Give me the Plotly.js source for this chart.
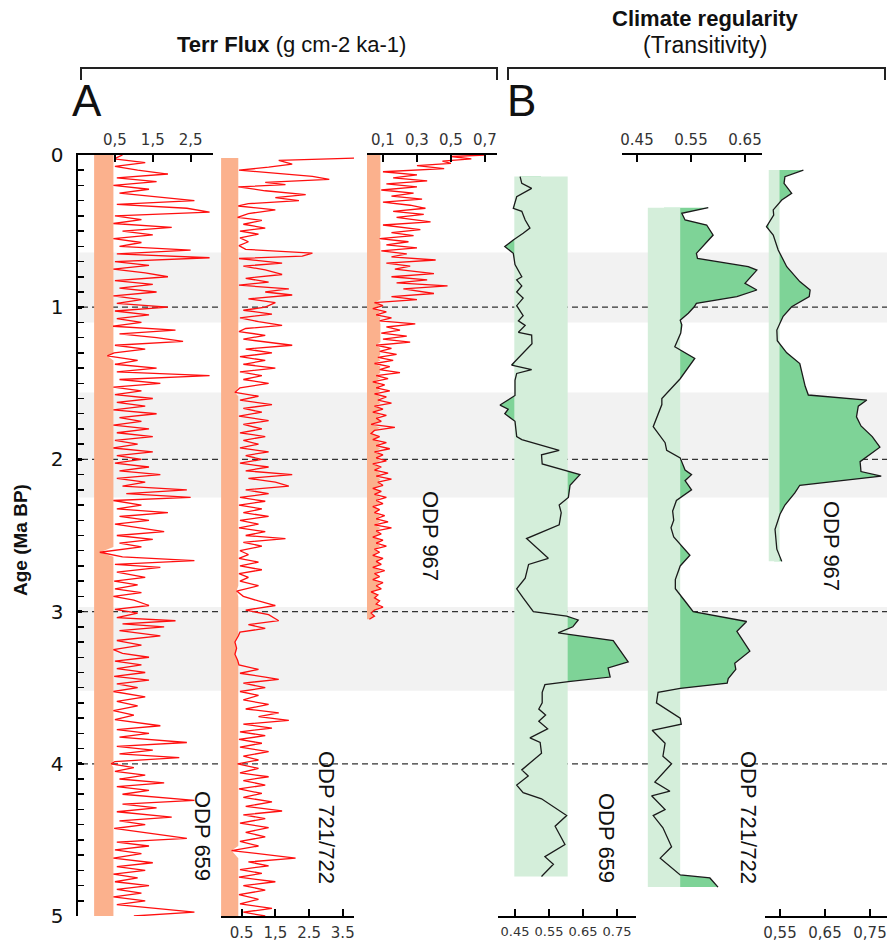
<!DOCTYPE html>
<html>
<head>
<meta charset="utf-8">
<script src="https://cdn.plot.ly/plotly-3.0.1.min.js"></script>
<style>html,body{margin:0;padding:0;background:#fff;}#chart{width:887px;height:941px;}</style>
</head>
<body>
<div id="chart"></div>
<script>
// ---------------- DATA ----------------
// Panel A: terrigenous flux (g cm-2 ka-1) vs age (Ma BP)
const ages659A = [0.000,0.025,0.050,0.075,0.100,0.125,0.150,0.175,0.200,0.225,0.250,0.275,0.300,0.325,0.350,0.375,0.400,0.425,0.450,0.475,0.500,0.525,0.550,0.575,0.600,0.625,0.650,0.675,0.700,0.725,0.750,0.775,0.800,0.825,0.850,0.875,0.900,0.925,0.950,0.975,1.000,1.025,1.050,1.075,1.100,1.125,1.150,1.175,1.200,1.225,1.250,1.275,1.300,1.320,1.350,1.375,1.400,1.425,1.450,1.475,1.500,1.525,1.550,1.575,1.600,1.625,1.650,1.675,1.700,1.725,1.750,1.775,1.800,1.825,1.850,1.875,1.900,1.925,1.950,1.975,2.000,2.025,2.050,2.075,2.100,2.125,2.150,2.175,2.200,2.225,2.250,2.270,2.300,2.325,2.350,2.375,2.400,2.425,2.450,2.475,2.500,2.525,2.550,2.575,2.610,2.640,2.665,2.690,2.710,2.740,2.775,2.800,2.825,2.850,2.875,2.900,2.925,2.960,2.985,3.010,3.040,3.060,3.080,3.100,3.125,3.160,3.190,3.220,3.250,3.275,3.300,3.325,3.350,3.375,3.400,3.425,3.450,3.475,3.500,3.525,3.560,3.590,3.620,3.650,3.680,3.710,3.750,3.775,3.800,3.825,3.860,3.885,3.910,3.935,3.960,3.985,4.000,4.025,4.050,4.075,4.100,4.125,4.150,4.175,4.200,4.240,4.265,4.290,4.315,4.350,4.375,4.400,4.425,4.450,4.490,4.515,4.540,4.565,4.590,4.620,4.650,4.675,4.700,4.725,4.750,4.775,4.800,4.825,4.850,4.875,4.900,4.925,4.950,4.975,5.000];
const flux659A = [0.7,0.48,1.3,0.5,1.1,1.9,0.55,1.6,0.46,1.4,0.62,1.7,2.6,0.55,2.4,3.0,0.5,1.2,0.46,2.0,0.7,1.5,0.46,1.2,0.62,2.5,0.55,3.0,0.5,1.4,0.46,1.3,1.9,0.5,1.5,0.62,1.6,0.46,1.2,0.55,1.9,0.5,1.4,0.55,1.2,0.45,2.1,0.62,1.6,2.3,0.5,1.3,0.48,0.3,1.1,0.5,1.6,0.55,3.0,0.62,1.7,0.46,1.2,0.5,1.5,0.55,1.3,0.46,1.6,0.62,1.2,0.46,1.4,0.55,1.5,0.5,1.1,0.46,1.5,0.55,1.2,0.5,1.4,0.62,1.7,0.55,1.3,0.7,2.4,0.8,2.5,0.46,1.2,0.55,1.9,0.62,1.4,0.5,1.2,1.8,0.55,1.5,0.62,1.2,0.1,0.7,2.6,0.5,1.7,0.55,1.3,0.48,1.1,0.5,1.2,0.46,1.0,1.4,0.5,1.1,0.55,2.1,0.7,1.8,0.62,1.7,0.55,1.2,0.46,0.7,1.4,0.5,1.2,0.55,1.3,0.48,1.4,0.55,1.1,0.46,1.3,0.55,1.1,0.46,1.0,0.5,1.7,0.55,1.4,0.62,2.4,0.55,1.5,0.62,2.2,0.5,0.4,1.0,0.5,1.3,0.62,1.8,0.55,1.4,0.7,2.6,0.7,1.6,0.55,2.0,0.62,1.3,0.48,1.2,2.4,0.55,1.4,0.5,1.2,0.46,1.5,0.55,1.3,0.46,1.1,0.5,1.4,0.55,1.2,0.46,1.3,0.55,1.5,2.6,1.0];

const ages721A = [0.020,0.035,0.060,0.080,0.100,0.120,0.140,0.160,0.180,0.195,0.210,0.235,0.260,0.280,0.300,0.320,0.335,0.360,0.385,0.410,0.430,0.455,0.480,0.500,0.520,0.545,0.570,0.595,0.620,0.645,0.665,0.680,0.710,0.730,0.755,0.785,0.810,0.835,0.855,0.880,0.900,0.920,0.945,0.970,1.000,1.020,1.045,1.070,1.095,1.120,1.140,1.160,1.185,1.210,1.250,1.275,1.300,1.325,1.350,1.375,1.400,1.425,1.450,1.475,1.500,1.530,1.560,1.585,1.610,1.640,1.665,1.690,1.715,1.745,1.770,1.800,1.825,1.850,1.875,1.900,1.925,1.950,1.975,2.000,2.025,2.050,2.075,2.100,2.125,2.150,2.175,2.200,2.225,2.250,2.275,2.300,2.325,2.350,2.375,2.400,2.425,2.450,2.475,2.500,2.520,2.545,2.570,2.600,2.625,2.650,2.675,2.700,2.725,2.750,2.775,2.800,2.830,2.865,2.900,2.930,2.960,2.990,3.020,3.060,3.085,3.110,3.135,3.160,3.200,3.240,3.280,3.320,3.350,3.380,3.405,3.430,3.445,3.470,3.500,3.525,3.550,3.580,3.610,3.640,3.665,3.690,3.715,3.740,3.765,3.790,3.815,3.840,3.865,3.890,3.920,3.950,3.975,4.000,4.030,4.060,4.085,4.110,4.140,4.165,4.195,4.220,4.250,4.280,4.310,4.335,4.360,4.390,4.420,4.450,4.480,4.510,4.540,4.570,4.620,4.645,4.670,4.695,4.720,4.745,4.775,4.800,4.830,4.860,4.890,4.920,4.950,4.975,5.000];
const flux721A = [4.0,1.6,2.0,1.3,0.42,1.5,2.6,3.1,1.2,1.8,0.4,1.2,2.4,1.5,2.2,0.7,0.4,1.5,0.7,0.38,1.1,0.55,1.2,0.45,1.0,0.45,0.7,0.42,0.62,2.6,2.3,0.42,1.7,0.55,1.2,1.7,0.62,1.3,0.42,1.9,1.2,2.0,0.7,1.5,1.2,0.55,1.4,0.45,1.0,1.7,0.62,0.42,1.2,0.55,2.0,0.62,1.4,0.45,1.2,0.55,1.5,0.45,1.1,0.55,1.3,0.45,0.3,1.0,0.45,1.4,0.55,1.1,0.42,1.3,0.55,1.1,0.45,1.2,0.55,1.0,0.45,1.3,0.62,1.1,0.45,1.3,0.62,2.0,0.7,1.5,1.9,0.62,1.3,0.45,1.2,0.42,1.1,0.55,1.3,0.45,1.0,0.42,1.2,0.62,1.8,0.55,1.1,0.45,0.7,0.42,1.0,0.45,1.1,0.42,0.7,0.45,1.0,0.35,0.55,1.0,1.5,0.62,1.3,1.6,0.7,1.2,0.45,0.4,0.3,0.35,0.3,0.38,0.42,1.0,0.45,1.2,1.6,0.55,1.2,0.45,1.0,0.55,1.3,0.62,1.6,1.0,1.9,0.55,1.4,0.45,1.2,0.42,1.1,0.45,1.3,0.55,1.0,0.38,1.0,0.45,1.3,0.55,1.2,0.42,1.1,0.55,1.4,0.62,1.7,0.55,1.2,0.45,1.3,0.62,1.2,0.45,1.0,0.2,2.1,0.7,1.3,0.45,1.1,0.42,1.5,0.55,1.2,0.42,1.0,0.45,1.4,0.55,1.2];

const ages967A = [0.000,0.010,0.025,0.040,0.055,0.070,0.090,0.110,0.130,0.150,0.170,0.190,0.210,0.230,0.250,0.270,0.290,0.310,0.330,0.350,0.370,0.390,0.410,0.440,0.460,0.490,0.510,0.530,0.550,0.570,0.590,0.610,0.630,0.650,0.670,0.690,0.710,0.730,0.750,0.780,0.800,0.820,0.840,0.860,0.880,0.910,0.930,0.950,0.970,0.990,1.010,1.030,1.050,1.070,1.090,1.110,1.130,1.150,1.170,1.190,1.210,1.230,1.250,1.270,1.290,1.310,1.330,1.350,1.370,1.390,1.410,1.430,1.450,1.470,1.490,1.510,1.530,1.550,1.570,1.590,1.610,1.630,1.650,1.670,1.690,1.710,1.730,1.750,1.770,1.790,1.810,1.830,1.850,1.870,1.890,1.910,1.930,1.950,1.970,1.990,2.010,2.030,2.050,2.070,2.090,2.110,2.130,2.150,2.170,2.190,2.210,2.230,2.250,2.270,2.290,2.310,2.330,2.350,2.370,2.390,2.410,2.430,2.450,2.470,2.490,2.510,2.530,2.550,2.570,2.590,2.610,2.630,2.650,2.670,2.690,2.710,2.730,2.750,2.770,2.790,2.810,2.830,2.850,2.870,2.890,2.910,2.930,2.950,2.970,2.990,3.010,3.030,3.050];
const flux967A = [0.70,0.50,0.62,0.45,0.50,0.30,0.46,0.10,0.30,0.16,0.36,0.12,0.30,0.09,0.28,0.15,0.33,0.10,0.26,0.35,0.16,0.34,0.18,0.38,0.10,0.32,0.15,0.28,0.08,0.25,0.12,0.30,0.09,0.24,0.15,0.41,0.12,0.26,0.17,0.40,0.15,0.36,0.18,0.48,0.22,0.40,0.15,0.30,0.05,0.10,0.04,0.12,0.06,0.15,0.08,0.29,0.12,0.20,0.09,0.24,0.10,0.26,0.06,0.15,0.08,0.18,0.07,0.16,0.05,0.14,0.08,0.20,0.06,0.13,0.04,0.11,0.06,0.14,0.05,0.12,0.07,0.15,0.05,0.10,0.04,0.12,0.06,0.09,0.03,0.17,0.05,0.03,0.08,0.04,0.12,0.06,0.14,0.05,0.10,0.06,0.12,0.04,0.09,0.05,0.13,0.06,0.15,0.07,0.10,0.04,0.09,0.05,0.12,0.06,0.10,0.04,0.08,0.05,0.11,0.06,0.13,0.05,0.15,0.06,0.09,0.04,0.10,0.06,0.12,0.05,0.08,0.04,0.10,0.06,0.09,0.04,0.11,0.05,0.08,0.04,0.10,0.06,0.09,0.03,0.07,0.05,0.08,0.06,0.10,0.05,0.03,0.05,0.02];

// orange floor: flux level up to which the orange band is filled
const floor659A = 0.46, floor721A = 0.40, floor967A = 0.085;

// Panel B: transitivity vs age
const ages659B = [0.142,0.186,0.219,0.274,0.350,0.370,0.427,0.480,0.514,0.558,0.602,0.646,0.720,0.800,0.820,0.860,0.900,0.940,0.990,1.055,1.090,1.120,1.165,1.183,1.240,1.380,1.410,1.435,1.480,1.580,1.643,1.670,1.700,1.750,1.850,1.870,1.940,1.970,2.030,2.050,2.080,2.100,2.170,2.250,2.300,2.350,2.430,2.520,2.650,2.690,2.780,2.850,2.910,3.000,3.030,3.055,3.100,3.140,3.190,3.330,3.370,3.430,3.460,3.480,3.530,3.600,3.640,3.680,3.720,3.770,3.830,3.860,3.930,4.040,4.080,4.140,4.190,4.230,4.340,4.410,4.530,4.610,4.660,4.740];
const trans659B = [0.465,0.470,0.499,0.455,0.445,0.470,0.480,0.494,0.474,0.445,0.420,0.445,0.450,0.470,0.455,0.470,0.455,0.474,0.455,0.474,0.460,0.480,0.460,0.499,0.500,0.440,0.499,0.455,0.450,0.450,0.406,0.430,0.420,0.450,0.455,0.470,0.580,0.528,0.530,0.560,0.607,0.641,0.612,0.607,0.580,0.586,0.580,0.484,0.548,0.490,0.480,0.455,0.474,0.504,0.602,0.636,0.620,0.577,0.739,0.783,0.724,0.730,0.607,0.538,0.530,0.530,0.520,0.540,0.520,0.546,0.494,0.524,0.528,0.470,0.489,0.455,0.474,0.528,0.602,0.568,0.597,0.538,0.563,0.528];

const ages721B = [0.346,0.383,0.427,0.460,0.526,0.646,0.680,0.734,0.756,0.843,0.887,0.930,0.975,0.997,1.040,1.085,1.116,1.170,1.260,1.336,1.470,1.600,1.640,1.785,1.890,1.940,1.990,2.070,2.100,2.140,2.200,2.270,2.340,2.400,2.450,2.510,2.630,2.700,2.790,2.850,2.945,3.000,3.065,3.130,3.260,3.340,3.380,3.440,3.470,3.505,3.530,3.600,3.700,3.740,3.780,3.865,3.950,4.000,4.120,4.180,4.210,4.300,4.340,4.420,4.545,4.620,4.730,4.750,4.810];
const trans721B = [0.582,0.533,0.539,0.579,0.591,0.560,0.562,0.656,0.672,0.650,0.672,0.635,0.560,0.556,0.545,0.530,0.533,0.531,0.520,0.557,0.530,0.496,0.496,0.480,0.502,0.505,0.530,0.539,0.551,0.539,0.551,0.523,0.516,0.518,0.513,0.518,0.548,0.530,0.521,0.521,0.542,0.554,0.653,0.635,0.659,0.631,0.633,0.619,0.617,0.530,0.489,0.486,0.530,0.532,0.478,0.502,0.498,0.514,0.483,0.511,0.477,0.502,0.480,0.498,0.514,0.493,0.530,0.585,0.600];

const ages967B = [0.099,0.142,0.186,0.252,0.296,0.361,0.394,0.471,0.526,0.624,0.734,0.832,0.887,0.930,0.997,1.060,1.150,1.220,1.300,1.370,1.520,1.577,1.610,1.650,1.720,1.780,1.850,1.920,2.015,2.080,2.110,2.170,2.220,2.300,2.360,2.460,2.590,2.670];
const trans967B = [0.602,0.561,0.559,0.576,0.554,0.535,0.536,0.520,0.535,0.546,0.565,0.594,0.617,0.615,0.576,0.557,0.543,0.544,0.565,0.594,0.606,0.613,0.743,0.724,0.720,0.730,0.755,0.772,0.728,0.730,0.775,0.594,0.583,0.561,0.550,0.539,0.543,0.554];

// regularity bands [low, high]
const band659B = [0.448, 0.605];
const band721B = [0.470, 0.530];
const band967B = [0.525, 0.549];

// shaded age intervals and reference ages
const greyBands = [[0.64, 1.10], [1.56, 2.25], [2.97, 3.52]];
const refAges = [1, 2, 3, 4];

// tick labels
const ageTicks = [0, 1, 2, 3, 4, 5];
const ticks659A = [0.5, 1.5, 2.5],  labels659A = ['0,5', '1,5', '2,5'];
const ticks721A = [0.5, 1.5, 2.5, 3.5], labels721A = ['0.5', '1,5', '2.5', '3.5'];
const ticks967A = [0.1, 0.3, 0.5, 0.7], labels967A = ['0,1', '0,3', '0,5', '0,7'];
const ticks659B = [0.45, 0.55, 0.65, 0.75], labels659B = ['0.45', '0.55', '0.65', '0.75'];
const ticks721B = [0.45, 0.55, 0.65], labels721B = ['0.45', '0.55', '0.65'];
const ticks967B = [0.55, 0.65, 0.75], labels967B = ['0,55', '0,65', '0,75'];

// ---------------- LAYOUT HELPERS ----------------
const W = 887, H = 941;
const px = x => x / W;
const py = y => 1 - y / H;

const ORANGE = 'rgb(251,177,141)';
const RED = 'rgb(255,15,15)';
const LGREEN = 'rgb(212,238,218)';
const DGREEN = 'rgb(126,211,151)';

const traces = [];
const none = {width: 0, color: 'rgba(0,0,0,0)'};

function fluxPanel(xa, ages, vals, base, floor) {
  traces.push({x: [base, base], y: [ages[0], ages[ages.length - 1]], xaxis: xa, yaxis: 'y',
    mode: 'lines', line: none, hoverinfo: 'skip', showlegend: false});
  traces.push({x: vals.map(v => Math.min(v, floor)), y: ages, xaxis: xa, yaxis: 'y', mode: 'lines',
    fill: 'tonextx', fillcolor: ORANGE, line: none, hoverinfo: 'skip', showlegend: false});
  traces.push({x: vals, y: ages, xaxis: xa, yaxis: 'y', mode: 'lines',
    line: {color: RED, width: 1.3}, hoverinfo: 'skip', showlegend: false});
}

function transPanel(xa, ages, vals, band) {
  const a0 = ages[0], a1 = ages[ages.length - 1];
  const c = (band[0] + band[1]) / 2;
  traces.push({x: [c, c], y: [a0, a1], xaxis: xa, yaxis: 'y', mode: 'lines',
    line: none, hoverinfo: 'skip', showlegend: false});
  traces.push({x: vals, y: ages, xaxis: xa, yaxis: 'y', mode: 'lines', fill: 'tonextx',
    fillcolor: DGREEN, line: none, hoverinfo: 'skip', showlegend: false});
  traces.push({x: [band[0], band[1], band[1], band[0], band[0]], y: [a0, a0, a1, a1, a0],
    xaxis: xa, yaxis: 'y', mode: 'lines', fill: 'toself', fillcolor: LGREEN,
    line: none, hoverinfo: 'skip', showlegend: false});
  traces.push({x: vals, y: ages, xaxis: xa, yaxis: 'y', mode: 'lines',
    line: {color: '#1a1a1a', width: 1.3}, hoverinfo: 'skip', showlegend: false});
}

fluxPanel('x', ages659A, flux659A, -0.05, floor659A);
fluxPanel('x2', ages721A, flux721A, -0.11, floor721A);
fluxPanel('x3', ages967A, flux967A, 0.0, floor967A);
transPanel('x4', ages659B, trans659B, band659B);
transPanel('x5', ages721B, trans721B, band721B);
transPanel('x6', ages967B, trans967B, band967B);

function xAxis(dom, range, side, tv, tt, fs) {
  return {domain: [px(dom[0]), px(dom[1])], range: range, anchor: 'y', side: side,
    showline: true, linewidth: 2, linecolor: '#000', mirror: false,
    ticks: 'inside', ticklen: 7, tickwidth: 2, tickcolor: '#000',
    tickvals: tv, ticktext: tt,
    tickfont: {family: 'DejaVu Sans, sans-serif', size: fs || 15, color: '#333'},
    tickangle: 0, ticklabelstandoff: 2,
    showgrid: false, zeroline: false, fixedrange: true};
}

const shapes = [];
greyBands.forEach(b => shapes.push({type: 'rect', xref: 'paper', yref: 'y', x0: px(79), x1: 1,
  y0: b[0], y1: b[1], fillcolor: '#f2f2f2', line: {width: 0}, layer: 'below'}));
refAges.forEach(a => shapes.push({type: 'line', xref: 'paper', yref: 'y', x0: px(82), x1: 1,
  y0: a, y1: a, line: {color: '#333', width: 1.3, dash: '6px,4px'}, layer: 'below'}));
function bracket(x1, x2) {
  return {type: 'path', xref: 'paper', yref: 'paper',
    path: `M ${px(x1)},${py(80)} L ${px(x1)},${py(68)} L ${px(x2)},${py(68)} L ${px(x2)},${py(80)}`,
    line: {color: '#222', width: 2}, layer: 'above'};
}
shapes.push(bracket(81, 497));
shapes.push(bracket(508, 885));

const F = 'Liberation Sans, Arial, sans-serif';
function ann(text, x, y, size, extra) {
  return Object.assign({text: text, x: px(x), y: py(y), xref: 'paper', yref: 'paper',
    showarrow: false, font: {family: F, size: size, color: '#111'},
    xanchor: 'center', yanchor: 'middle'}, extra || {});
}
const annotations = [
  ann('<b>Terr Flux</b> (g cm-2 ka-1)', 291, 44, 22),
  ann('<b>Climate regularity</b>', 705, 19, 22),
  ann('(Transitivity)', 705, 45, 23),
  ann('A', 87, 101, 44),
  ann('B', 521, 101, 44),
  ann('<b>Age (Ma BP)</b>', 20, 540, 19, {textangle: -90}),
  ann('ODP 659', 203, 836, 22, {textangle: 90}),
  ann('ODP 721/722', 327, 817, 22, {textangle: 90}),
  ann('ODP 967', 431, 536, 22, {textangle: 90}),
  ann('ODP 659', 607, 838, 22, {textangle: 90}),
  ann('ODP 721/722', 749, 817, 22, {textangle: 90}),
  ann('ODP 967', 832, 546, 22, {textangle: 90})
];

const layout = {
  width: W, height: H, margin: {l: 0, r: 0, t: 0, b: 0, pad: 0},
  paper_bgcolor: '#fff', plot_bgcolor: 'rgba(0,0,0,0)', showlegend: false,
  xaxis:  xAxis([78, 213],  [-0.476, 3.091], 'top',    ticks659A, labels659A),
  xaxis2: xAxis([221, 354], [-0.113, 3.834], 'bottom', ticks721A, labels721A),
  xaxis3: xAxis([367, 497], [0.006, 0.771],  'top',    ticks967A, labels967A),
  xaxis4: xAxis([498, 636], [0.40, 0.806],   'bottom', ticks659B, labels659B, 13),
  xaxis5: xAxis([622, 762], [0.4222, 0.6815],'top',    ticks721B, labels721B),
  xaxis6: xAxis([765, 887], [0.5167, 0.7878],'bottom', ticks967B, labels967B),
  yaxis: {domain: [py(916), py(155)], range: [5, 0], anchor: 'x',
    showline: true, linewidth: 2.5, linecolor: '#000',
    ticks: 'inside', ticklen: 4, tickwidth: 3, tickcolor: '#000',
    tickvals: ageTicks, ticktext: ageTicks.map(String),
    tickfont: {family: 'DejaVu Sans, sans-serif', size: 20, color: '#111'},
    ticklabelstandoff: 8,
    minor: {dtick: 0.1, ticks: 'inside', ticklen: 6, tickwidth: 1.5, tickcolor: '#000'},
    showgrid: false, zeroline: false, fixedrange: true},
  shapes: shapes,
  annotations: annotations
};

Plotly.newPlot('chart', traces, layout, {staticPlot: true, displayModeBar: false});
</script>
</body>
</html>
